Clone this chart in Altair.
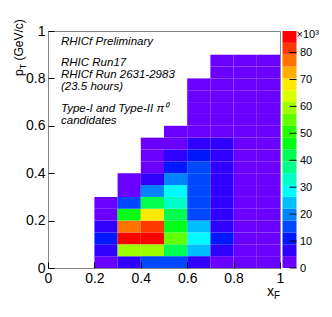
import altair as alt
import pandas as pd

FONT = "Liberation Sans"

# ---- data: counts (x10^3) per x_F column, from p_T = 0 upward in 0.05 GeV/c bins
x_lo = [0.2, 0.3, 0.4, 0.5, 0.6, 0.7, 0.8, 0.9]
col_020 = [2.1, 6.4, 10.5, 6.2, 2.6, 1.8]
col_030 = [6.8, 59, 87, 76, 46, 15, 2.4, 1.6]
col_040 = [15, 60, 86, 81, 68, 42, 20, 6.5, 2.5, 1.9, 1.2]
col_050 = [14.5, 41, 55, 46, 41, 33, 29, 20, 11, 6.6, 3.5, 1.8]
col_060 = [6.9, 24, 29, 24, 15, 15, 14.5, 14, 13.5, 10.5, 6.0, 3.8, 2.8, 2.2, 1.8, 1.3]
col_070 = [3.9, 7.0, 10.8, 7.5, 7.2, 6.8, 6.5, 6.2, 5.9, 5.4, 4.8, 4.0, 3.5, 3.0, 2.6, 2.2, 1.8, 1.4]
col_080 = [3.2, 3.6, 3.9, 3.7, 3.5, 3.3, 3.1, 2.9, 2.7, 2.5, 2.3, 2.1, 1.9, 1.7, 1.5, 1.3, 1.1, 0.9]
col_090 = [1.6, 1.9, 2.0, 1.9, 1.8, 1.7, 1.6, 1.5, 1.4, 1.3, 1.2, 1.1, 1.0, 0.9, 0.8, 0.7, 0.6, 0.5]
columns = [col_020, col_030, col_040, col_050, col_060, col_070, col_080, col_090]
x_width = 0.1
y_width = 0.05

# colour contours (x10^3)
contour_edges = [0, 4.4, 8.8, 13.2, 17.6, 22.0, 26.4, 30.8, 35.2, 39.6, 44.0,
                 48.4, 52.8, 57.2, 61.6, 66.0, 70.4, 74.8, 79.2, 83.6, 88.0]
palette = ["#6a00ff", "#2f00ff", "#0018ff", "#0048ff", "#0083ff", "#00bfff",
           "#00fbff", "#00ffc8", "#00ff8c", "#00ff51", "#00ff15", "#26ff00",
           "#62ff00", "#9dff00", "#d9ff00", "#ffea00", "#ffae00", "#ff7300",
           "#ff3700", "#ff0000"]
cbar_ticks = [0, 10, 20, 30, 40, 50, 60, 70, 80]
axis_ticks = [0, 0.2, 0.4, 0.6, 0.8, 1.0]

rows = []
for x0, vals in zip(x_lo, columns):
    for i, v in enumerate(vals):
        rows.append(dict(x0=x0, x1=x0 + x_width, y0=i * y_width, y1=(i + 1) * y_width, z=v))
df = pd.DataFrame(rows)

W, H = 232, 237
CB_X0, CB_X1 = 234.5, 248.5   # colour bar placement (pixels, right of the frame)


def axis():
    return alt.Axis(values=axis_ticks, format="~g", title=None, offset=-6, tickSize=6,
                    domain=False, grid=False, labelFlush=False, labelOverlap=False,
                    labelPadding=3, labelFontSize=14,
                    labelFont=FONT, labelColor="black", tickColor="black", zindex=1)


cells = alt.Chart(df).mark_rect().encode(
    x=alt.X("x0:Q", scale=alt.Scale(domain=[0, 1], nice=False, zero=False), axis=axis()),
    x2="x1:Q",
    y=alt.Y("y0:Q", scale=alt.Scale(domain=[0, 1], nice=False, zero=False), axis=axis()),
    y2="y1:Q",
    color=alt.Color("z:Q", scale=alt.Scale(type="quantize", domain=[0, 88], range=palette, nice=False),
                    legend=None),
)


def txt(s, x, y, size=11.5, italic=True, angle=0, align="left"):
    return alt.Chart(pd.DataFrame({"t": [s]})).mark_text(
        font=FONT, fontSize=size, fontStyle="italic" if italic else "normal",
        align=align, baseline="alphabetic", angle=angle, color="black"
    ).encode(text="t:N", x=alt.value(x), y=alt.value(y))


notes = [
    txt("RHICf Preliminary", 13, 14),
    txt("RHIC Run17", 13, 35),
    txt("RHICf Run 2631-2983", 13, 47),
    txt("(23.5 hours)", 13, 59),
    txt("Type-I and Type-II π⁰", 13, 80.5),
    txt("candidates", 13, 92.8),
]
titles = [
    txt("x", 226, 265, size=14, italic=False, align="right"),
    txt("F", 226, 268, size=10, italic=False),
    txt("p", -25, 45, size=12, italic=False, angle=270),
    txt("T", -22, 38.3, size=9, italic=False, angle=270),
    txt("(GeV/c)", -25, 29.5, size=12, italic=False, angle=270),
    txt("×10³", CB_X1, 6.5, size=11, italic=False),
]

main = alt.layer(cells, *notes, *titles)

cb = pd.DataFrame({"lo": contour_edges[:-1], "hi": contour_edges[1:], "c": palette})
cscale = alt.Scale(domain=[0, 88], nice=False, zero=False)
cbar_axis = alt.Axis(orient="right", values=cbar_ticks, ticks=False, domain=False, grid=False,
                     offset=CB_X1 - W, labelPadding=3, labelFontSize=11, labelFont=FONT,
                     labelColor="black", title=None, labelOverlap=False)
bar = alt.Chart(cb).mark_rect().encode(
    y=alt.Y("lo:Q", scale=cscale, axis=cbar_axis),
    y2="hi:Q",
    x=alt.value(CB_X0), x2=alt.value(CB_X1),
    color=alt.Color("c:N", scale=None),
)
cticks = alt.Chart(pd.DataFrame({"t": cbar_ticks})).mark_rule(color="black").encode(
    y=alt.Y("t:Q", scale=cscale, axis=cbar_axis), x=alt.value(CB_X1 - 7), x2=alt.value(CB_X1)
)
colorbar = alt.layer(bar, cticks)

chart = alt.layer(main, colorbar).resolve_scale(y="independent").properties(
    width=W, height=H, view=alt.ViewBackground(stroke="#888888", strokeWidth=1),
    padding={"left": 5, "top": 11, "right": 0, "bottom": 0},
).configure_view(stroke=None).configure(font=FONT)

chart.save("out.html", embed_options={"renderer": "svg", "actions": False})
